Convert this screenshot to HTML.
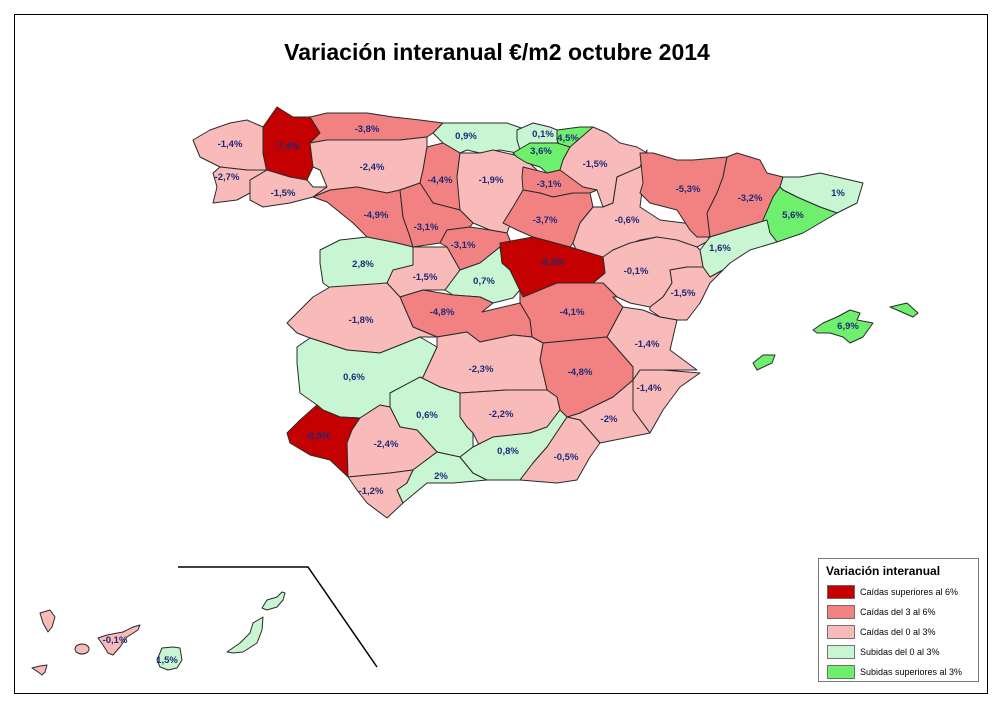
<!DOCTYPE html>
<html><head><meta charset="utf-8"><style>
html,body{margin:0;padding:0;background:#fff;width:1000px;height:708px;overflow:hidden}
svg{display:block}
.p{stroke:#2a2a2a;stroke-width:1;stroke-linejoin:round}
.a{fill:#c40000}.b{fill:#f28282}.c{fill:#f9baba}.d{fill:#c8f5d2}.e{fill:#6ef06e}
text.l{font-family:"Liberation Sans",sans-serif;font-size:9.5px;font-weight:bold;fill:#1c2a78;text-anchor:middle}
</style></head><body>
<svg width="1000" height="708" viewBox="0 0 1000 708">
<rect x="14.5" y="14.5" width="973" height="679" fill="none" stroke="#000" stroke-width="1"/>
<text x="497" y="60" font-family="Liberation Sans,sans-serif" font-size="23" font-weight="bold" text-anchor="middle" fill="#000">Variación interanual €/m2 octubre 2014</text>
<g class="p">
<polygon class="c" points="193,140 210,130 230,123 247,120 263,127 263,153 267,170 247,170 220,167 200,157"/>
<polygon class="a" points="263,127 277,107 293,117 310,117 320,133 310,143 313,167 307,180 290,177 267,173 263,153"/>
<polygon class="c" points="213,173 220,167 247,170 267,170 250,180 250,193 237,200 213,203 217,187"/>
<polygon class="c" points="267,170 290,177 307,180 313,187 327,187 313,197 290,203 263,207 250,200 250,180"/>
<polygon class="b" points="310,117 327,113 367,113 393,117 420,120 443,123 433,133 427,137 400,140 367,140 327,140 310,143 320,133"/>
<polygon class="d" points="443,123 467,123 507,123 527,130 530,150 517,153 500,150 480,153 467,150 460,153 443,143 433,133"/>
<polygon class="c" points="310,143 327,140 367,140 400,140 427,137 427,147 423,170 420,183 400,190 387,193 357,187 330,190 313,197 327,187 320,170 313,167"/>
<polygon class="b" points="427,147 443,143 460,153 457,177 460,190 467,210 460,210 433,203 420,183 423,170"/>
<polygon class="c" points="460,153 480,153 493,150 523,157 537,170 540,190 530,200 513,217 507,233 490,230 473,223 460,210 457,177"/>
<polygon class="b" points="313,197 330,190 357,187 387,193 400,190 403,217 410,237 413,247 397,243 367,237 353,223 337,210 327,202"/>
<polygon class="b" points="400,190 420,183 433,203 460,210 473,223 470,227 447,230 440,243 413,247 410,237 403,217"/>
<polygon class="b" points="440,243 447,230 470,227 490,230 507,233 513,247 500,247 480,263 460,270 447,247"/>
<polygon class="d" points="320,250 340,240 367,237 397,243 413,247 413,267 393,280 387,283 367,287 337,293 323,283 320,263"/>
<polygon class="c" points="413,247 447,247 460,270 445,290 423,290 400,297 387,283 393,270 413,265"/>
<polygon class="d" points="445,290 460,270 480,263 500,247 502,263 510,270 520,290 513,298 493,303 480,297 453,295"/>
<polygon class="d" points="517,130 533,123 550,127 557,130 560,140 557,143 543,143 530,143 520,150 517,140"/>
<polygon class="e" points="557,130 580,127 593,127 587,137 570,147 560,147 557,140"/>
<polygon class="e" points="513,153 530,143 557,143 570,147 563,160 560,170 547,173 540,167 527,163 517,157"/>
<polygon class="c" points="570,147 593,127 607,133 620,143 637,147 647,153 640,167 617,177 613,203 603,207 597,190 583,187 563,177 560,170 563,160"/>
<polygon class="b" points="523,167 547,173 560,170 583,187 597,190 590,193 573,193 553,197 540,193 523,190 522,177"/>
<polygon class="b" points="523,190 540,193 553,197 573,193 590,193 593,207 580,223 573,243 570,247 533,237 517,230 503,223 513,207"/>
<polygon class="c" points="613,203 617,177 640,167 647,150 643,183 640,207 660,220 700,225 710,240 697,247 680,243 657,237 640,240 613,250 600,260 580,258 573,243 580,223 593,207 603,207"/>
<polygon class="b" points="640,153 653,153 677,160 693,160 727,157 723,177 717,193 707,213 710,237 697,237 690,230 677,210 650,203 640,193 643,183"/>
<polygon class="b" points="727,157 737,153 760,160 767,173 783,177 780,187 773,197 767,220 757,223 733,230 710,237 707,213 717,193 723,177"/>
<polygon class="d" points="783,177 800,177 820,173 850,180 863,183 857,203 837,213 820,207 797,197 783,190 780,187"/>
<polygon class="e" points="780,187 783,190 797,197 820,207 837,213 820,223 803,233 777,242 770,233 763,220 773,197"/>
<polygon class="d" points="710,237 733,230 757,223 767,220 770,233 777,242 750,250 730,263 723,270 710,277 703,267 700,250"/>
<polygon class="c" points="603,257 613,250 630,243 657,237 677,240 697,247 700,250 703,267 687,267 670,270 672,283 663,297 650,307 630,303 617,297 603,283 593,283 605,273"/>
<polygon class="c" points="703,267 710,277 723,270 710,283 700,303 687,320 677,320 660,317 650,310 650,307 663,297 672,283 670,270 687,267"/>
<polygon class="a" points="500,243 533,237 570,247 603,257 605,273 593,283 557,283 523,297 510,270 502,263"/>
<polygon class="b" points="520,303 520,290 523,297 557,283 593,283 603,283 617,297 613,297 623,307 607,337 543,343 532,337 530,320"/>
<polygon class="c" points="607,337 623,307 643,310 660,317 677,320 670,350 697,370 663,370 640,370 633,380 633,367"/>
<polygon class="c" points="633,380 640,370 663,370 700,373 680,387 663,410 650,433 633,410"/>
<polygon class="c" points="567,417 580,413 613,397 633,380 633,410 650,433 600,443 580,420"/>
<polygon class="b" points="540,360 543,343 607,337 633,367 633,380 613,397 580,413 567,417 560,410 557,397 547,390"/>
<polygon class="b" points="400,297 423,290 453,295 480,297 493,303 482,312 520,303 530,320 532,337 513,335 480,342 467,332 437,337 413,327"/>
<polygon class="c" points="437,337 467,332 480,342 513,335 532,337 543,343 540,360 547,390 507,390 460,393 440,387 420,377 423,377 437,347"/>
<polygon class="c" points="287,323 313,297 330,287 387,283 400,297 413,327 437,337 420,337 380,353 347,350 310,338 297,333"/>
<polygon class="d" points="297,347 310,338 347,350 380,353 420,337 437,347 423,377 390,393 390,407 380,405 360,418 340,417 323,410 317,405 300,393 297,363"/>
<polygon class="c" points="460,393 507,390 547,390 557,397 560,410 547,427 530,433 493,437 480,447 473,433 467,427 460,417"/>
<polygon class="d" points="390,393 420,377 440,387 460,393 460,417 467,427 473,433 473,447 460,457 437,452 417,430 400,427 390,407"/>
<polygon class="a" points="287,433 300,420 317,405 323,410 340,417 360,418 352,430 347,443 348,477 330,460 310,455 290,443"/>
<polygon class="c" points="360,418 380,405 390,407 400,427 417,430 437,452 413,470 390,473 348,477 347,443 352,430"/>
<polygon class="c" points="348,477 390,473 413,470 407,483 397,490 403,503 387,518 367,503 357,490"/>
<polygon class="d" points="413,470 437,452 460,457 473,473 487,480 453,483 427,483 403,503 397,490 407,483"/>
<polygon class="d" points="460,457 473,447 493,437 530,433 547,427 560,410 567,417 547,447 533,463 520,480 487,480 473,473"/>
<polygon class="c" points="567,417 580,420 600,443 590,457 577,480 557,483 520,480 533,463 547,447"/>
<polygon class="e" points="813,330 823,323 837,317 850,310 860,313 857,320 873,323 863,337 850,343 843,337 830,333 817,333"/>
<polygon class="e" points="890,307 907,303 918,313 913,317 897,310"/>
<polygon class="e" points="753,363 763,355 775,355 772,363 757,370"/>
<polygon class="c" points="40,613 50,610 55,617 52,627 48,632 43,623"/>
<ellipse class="c" cx="82" cy="649" rx="7" ry="5"/>
<polygon class="c" points="32,668 40,666 47,665 45,672 42,675 38,672"/>
<polygon class="c" points="98,638 107,635 123,632 133,627 140,625 138,630 127,637 120,647 113,655 108,653 103,645"/>
<polygon class="d" points="157,660 162,648 173,647 180,648 182,660 177,668 168,670 160,667"/>
<polygon class="d" points="227,652 240,643 250,633 253,623 263,617 262,630 257,643 243,652 233,653"/>
<polygon class="d" points="262,608 267,600 277,597 282,592 285,593 283,600 277,607 267,610"/>
</g>
<polyline points="178,567 308,567 377,667" fill="none" stroke="#000" stroke-width="1.5"/>
<g>
<text class="l" x="230" y="147">-1,4%</text><text class="l" x="287" y="149">-7,4%</text>
<text class="l" x="227" y="180">-2,7%</text><text class="l" x="283" y="196">-1,5%</text>
<text class="l" x="367" y="132">-3,8%</text><text class="l" x="372" y="170">-2,4%</text>
<text class="l" x="466" y="139">0,9%</text><text class="l" x="440" y="183">-4,4%</text>
<text class="l" x="491" y="183">-1,9%</text><text class="l" x="376" y="218">-4,9%</text>
<text class="l" x="426" y="230">-3,1%</text><text class="l" x="463" y="248">-3,1%</text>
<text class="l" x="363" y="267">2,8%</text><text class="l" x="425" y="280">-1,5%</text>
<text class="l" x="484" y="284">0,7%</text><text class="l" x="543" y="137">0,1%</text>
<text class="l" x="568" y="141">4,5%</text><text class="l" x="541" y="154">3,6%</text>
<text class="l" x="595" y="167">-1,5%</text><text class="l" x="549" y="187">-3,1%</text>
<text class="l" x="545" y="223">-3,7%</text><text class="l" x="627" y="223">-0,6%</text>
<text class="l" x="688" y="192">-5,3%</text><text class="l" x="750" y="201">-3,2%</text>
<text class="l" x="838" y="196">1%</text><text class="l" x="793" y="218">5,6%</text>
<text class="l" x="720" y="251">1,6%</text><text class="l" x="552" y="265">-6,3%</text>
<text class="l" x="636" y="274">-0,1%</text><text class="l" x="683" y="296">-1,5%</text>
<text class="l" x="361" y="323">-1,8%</text><text class="l" x="442" y="315">-4,8%</text>
<text class="l" x="572" y="315">-4,1%</text><text class="l" x="647" y="347">-1,4%</text>
<text class="l" x="354" y="380">0,6%</text><text class="l" x="481" y="372">-2,3%</text>
<text class="l" x="580" y="375">-4,8%</text><text class="l" x="649" y="391">-1,4%</text>
<text class="l" x="427" y="418">0,6%</text><text class="l" x="501" y="417">-2,2%</text>
<text class="l" x="609" y="422">-2%</text><text class="l" x="318" y="439">-6,9%</text>
<text class="l" x="386" y="447">-2,4%</text><text class="l" x="508" y="454">0,8%</text>
<text class="l" x="566" y="460">-0,5%</text><text class="l" x="441" y="479">2%</text>
<text class="l" x="371" y="494">-1,2%</text><text class="l" x="848" y="329">6,9%</text>
<text class="l" x="115" y="643">-0,1%</text><text class="l" x="167" y="663">1,5%</text>
</g>
<rect x="818.5" y="558.5" width="160" height="123" fill="#fff" stroke="#777" stroke-width="1"/>
<text x="826" y="575" font-family="Liberation Sans,sans-serif" font-size="12" font-weight="bold" fill="#000">Variación interanual</text>
<g font-family="Liberation Sans,sans-serif" font-size="9" fill="#000" stroke="#555" stroke-width="0.8">
<rect x="827.5" y="585.5" width="27" height="13" fill="#c40000"/>
<rect x="827.5" y="605.5" width="27" height="13" fill="#f28282"/>
<rect x="827.5" y="625.5" width="27" height="13" fill="#f9baba"/>
<rect x="827.5" y="645.5" width="27" height="13" fill="#c8f5d2"/>
<rect x="827.5" y="665.5" width="27" height="13" fill="#6ef06e"/>
</g>
<g font-family="Liberation Sans,sans-serif" font-size="9" fill="#000">
<text x="860" y="595">Caídas superiores al 6%</text>
<text x="860" y="615">Caídas del 3 al 6%</text>
<text x="860" y="635">Caídas del 0 al 3%</text>
<text x="860" y="655">Subidas del 0 al 3%</text>
<text x="860" y="675">Subidas superiores al 3%</text>
</g>
</svg>
</body></html>
